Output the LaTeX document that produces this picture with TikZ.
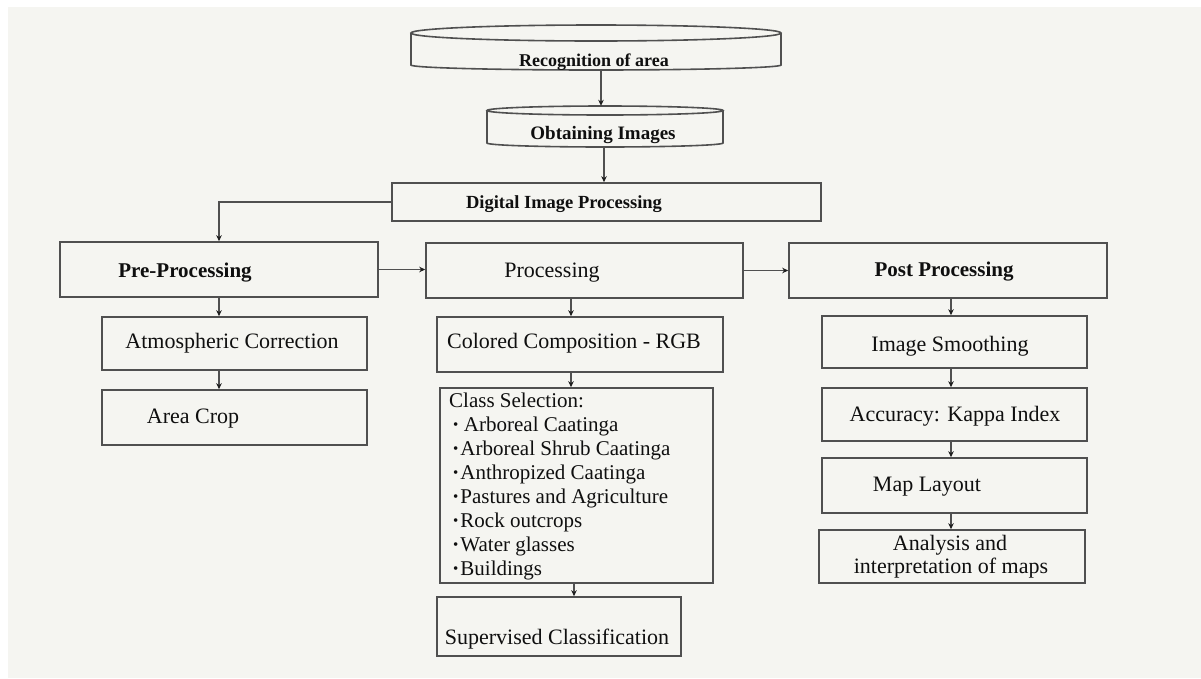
\documentclass[tikz,border=0pt]{standalone}
\usepackage{fontspec}
\setmainfont{Liberation Serif}
\usetikzlibrary{arrows.meta,calc}
\definecolor{bgc}{RGB}{245,245,241}
\definecolor{lnc}{RGB}{80,80,80}
\definecolor{txc}{RGB}{15,15,15}
\definecolor{tipc}{RGB}{30,30,30}
\tikzset{
  boxn/.style={draw=lnc, line width=1.6pt, rectangle, inner sep=0pt},
  holder/.style={rectangle, inner sep=0pt},
  lbl/.style={anchor=base, inner sep=0pt, text=txc, font=\fontsize{22}{24}\selectfont},
  hd/.style={anchor=base, inner sep=0pt, text=txc, font=\fontsize{#1}{#1}\selectfont\bfseries},
  conn/.style={draw=lnc, line width=1.3pt, -{Stealth[length=6pt,width=5.5pt,color=tipc]}},
  cyl/.style={draw=lnc, line width=1.6pt},
}
\newcommand{\bul}{\hspace*{4pt}{\fontsize{15}{15}\selectfont\raisebox{1.5pt}{•}}\hspace{2pt}}
\begin{document}
\begin{tikzpicture}[x=1pt,y=-1pt]
\useasboundingbox (0,0) rectangle (1201,678);
\fill[bgc] (8,7) rectangle (1201,678);

% ---- cylinders
\node[holder, minimum width=370pt, minimum height=45pt] (rec) at (596,47.5) {};
\draw[cyl] (411,33) -- (411,65) .. controls (411,67.76) and (493.8,70) .. (596,70) .. controls (698.2,70) and (781,67.76) .. (781,65) -- (781,33);
\draw[cyl] (596,33) ellipse [x radius=185, y radius=8];
\node[hd=18] (rect) at (594,66) {Recognition of area};

\node[holder, minimum width=236pt, minimum height=41pt] (obt) at (605,126.5) {};
\draw[cyl] (487,110.5) -- (487,143) .. controls (487,145.2) and (539.8,147) .. (605,147) .. controls (670.2,147) and (723,145.2) .. (723,143) -- (723,110.5);
\draw[cyl] (605,110.5) ellipse [x radius=118, y radius=4.5];
\node[hd=19] (obtt) at (603,139) {Obtaining Images};

% ---- boxes
\node[boxn, minimum width=429pt, minimum height=38pt] (dip) at (606.5,202) {};
\node[hd=18.5] (dipt) at (564,208) {Digital Image Processing};

\node[boxn, minimum width=318pt, minimum height=55pt] (pre) at (219,269.5) {};
\node[hd=21] (pret) at (185,277) {Pre-Processing};

\node[boxn, minimum width=317pt, minimum height=55pt] (proc) at (584.5,270.5) {};
\node[lbl] (proct) at (552,277) {Processing};

\node[boxn, minimum width=318pt, minimum height=55pt] (post) at (948,270.5) {};
\node[hd=21] (postt) at (944,276) {Post Processing};

\node[boxn, minimum width=265pt, minimum height=53pt] (atm) at (234.5,343.5) {};
\node[lbl] (atmt) at (232,348) {Atmospheric Correction};

\node[boxn, minimum width=265pt, minimum height=55pt] (crop) at (234.5,417.5) {};
\node[lbl] (cropt) at (193,423) {Area Crop};

\node[boxn, minimum width=286pt, minimum height=55pt] (ccomp) at (580,344.5) {};
\node[lbl] (ccompt) at (574,348) {Colored Composition - RGB};

\node[boxn, minimum width=273pt, minimum height=195pt] (cls) at (576.5,485.5) {};
\node[anchor=base west, inner sep=0pt, text=txc, align=left, font=\fontsize{21}{24}\selectfont] (clst) at (449,575) {Class Selection:\\
\bul\,Arboreal Caatinga\\
\bul Arboreal Shrub Caatinga\\
\bul Anthropized Caatinga\\
\bul Pastures and Agriculture\\
\bul Rock outcrops\\
\bul Water glasses\\
\bul Buildings};

\node[boxn, minimum width=244pt, minimum height=59pt] (sup) at (559,626.5) {};
\node[lbl] (supt) at (557,644) {Supervised Classification};

\node[boxn, minimum width=265pt, minimum height=52pt] (smooth) at (954.5,342) {};
\node[lbl] (smootht) at (950,351) {Image Smoothing};

\node[boxn, minimum width=265pt, minimum height=53pt] (kappa) at (954.5,414.5) {};
\node[lbl] (kappat) at (955,421) {Accuracy: Kappa Index};

\node[boxn, minimum width=265pt, minimum height=55pt] (layout) at (954.5,485.5) {};
\node[lbl] (layoutt) at (927,491) {Map Layout};

\node[boxn, minimum width=266pt, minimum height=53pt] (anl) at (952,556.5) {};
\node[lbl] (anlt1) at (950,550) {Analysis and};
\node[lbl] (anlt2) at (951,573) {interpretation of maps};

% ---- connector columns
\coordinate (c1) at (601,0);
\coordinate (c2) at (604,0);
\coordinate (pcol) at (571,0);
\coordinate (scol) at (574,0);
\coordinate (rcol) at (951,0);

% ---- connectors
\draw[conn] (rec.south -| c1) -- (obt.north -| c1);
\draw[conn] (obt.south -| c2) -- (dip.north -| c2);
\draw[conn] (dip.west) -| (pre.north);
\draw[conn] (pre.east) -- (proc.west |- pre.east);
\draw[conn] (proc.east) -- (post.west |- proc.east);
\draw[conn] (pre.south) -- (pre.south |- atm.north);
\draw[conn] (pre.south |- atm.south) -- (pre.south |- crop.north);
\draw[conn] (proc.south -| pcol) -- (ccomp.north -| pcol);
\draw[conn] (ccomp.south -| pcol) -- (cls.north -| pcol);
\draw[conn] (cls.south -| scol) -- (sup.north -| scol);
\draw[conn] (post.south -| rcol) -- (smooth.north -| rcol);
\draw[conn] (smooth.south -| rcol) -- (kappa.north -| rcol);
\draw[conn] (kappa.south -| rcol) -- (layout.north -| rcol);
\draw[conn] (layout.south -| rcol) -- (anl.north -| rcol);
\end{tikzpicture}
\end{document}
